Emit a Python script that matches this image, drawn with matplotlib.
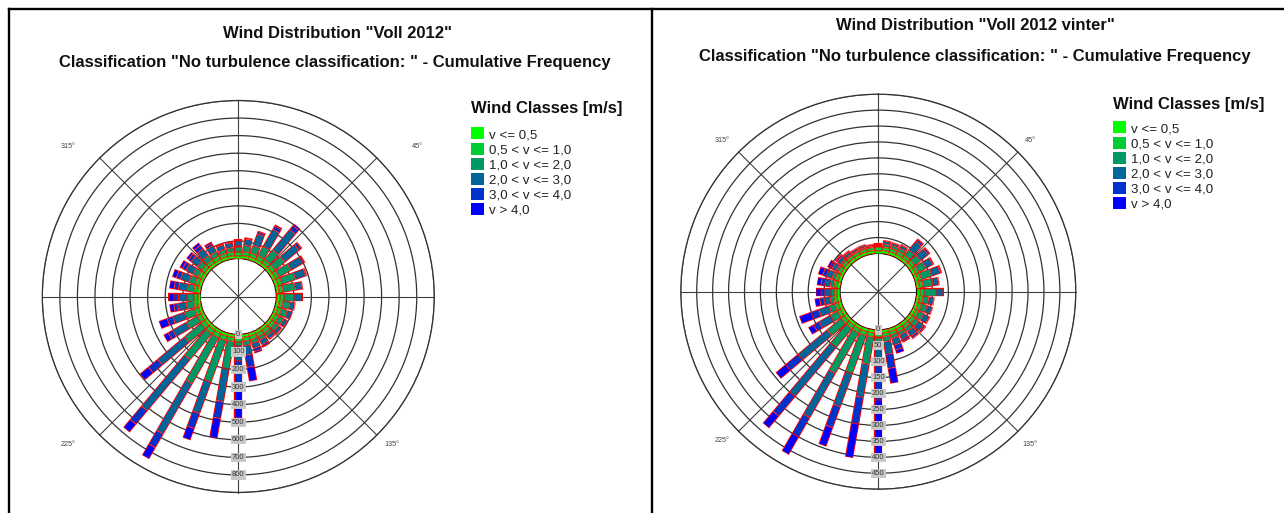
import numpy as np
import matplotlib
matplotlib.use("Agg")
import matplotlib.pyplot as plt
from matplotlib.lines import Line2D
from matplotlib.patches import Patch

plt.rcParams["font.family"] = ["Liberation Sans", "DejaVu Sans"]

directions = np.arange(0, 360, 10)
class_labels = ["v <= 0,5", "0,5 < v <= 1,0", "1,0 < v <= 2,0",
                "2,0 < v <= 3,0", "3,0 < v <= 4,0", "v > 4,0"]
class_colors = ["#00ff00", "#00cc33", "#009966", "#006699", "#0033cc", "#0000ff"]

# hours per direction sector (rows, 0..350 deg) and wind class (columns)
voll_2012 = [
    [18, 22, 32, 30, 5, 2],
    [18, 22, 37, 36, 7, 3],
    [18, 22, 47, 70, 13, 5],
    [18, 24, 62, 110, 22, 9],
    [18, 24, 72, 150, 30, 12],
    [18, 24, 72, 105, 16, 6],
    [18, 24, 77, 80, 9, 4],
    [18, 24, 82, 62, 6, 3],
    [18, 22, 72, 38, 4, 2],
    [18, 22, 60, 45, 4, 2],
    [18, 22, 40, 27, 3, 2],
    [18, 22, 35, 27, 3, 2],
    [18, 22, 30, 25, 3, 2],
    [18, 22, 25, 23, 4, 2],
    [18, 22, 20, 22, 5, 2],
    [18, 22, 20, 30, 12, 5],
    [18, 22, 22, 30, 19, 10],
    [18, 22, 25, 55, 70, 81],
    [18, 22, 22, 88, 130, 194],
    [18, 24, 158, 188, 98, 115],
    [18, 26, 252, 190, 90, 71],
    [18, 26, 302, 330, 90, 74],
    [18, 26, 192, 380, 100, 59],
    [18, 26, 122, 200, 70, 61],
    [18, 24, 72, 90, 30, 29],
    [18, 24, 62, 70, 34, 50],
    [18, 22, 42, 50, 22, 25],
    [18, 22, 37, 50, 25, 32],
    [18, 22, 37, 50, 25, 28],
    [18, 22, 37, 50, 25, 25],
    [18, 22, 32, 45, 22, 18],
    [18, 22, 32, 45, 20, 14],
    [18, 22, 32, 50, 25, 18],
    [18, 22, 27, 40, 15, 10],
    [18, 22, 22, 28, 7, 4],
    [18, 22, 24, 28, 6, 3],
]

voll_2012_vinter = [
    [10, 11, 5, 4, 1, 1],
    [10, 11, 10, 9, 2, 1],
    [10, 11, 10, 8, 2, 1],
    [10, 11, 11, 10, 3, 1],
    [10, 11, 21, 35, 8, 3],
    [10, 11, 24, 30, 6, 2],
    [10, 11, 26, 24, 4, 1],
    [10, 11, 34, 28, 4, 2],
    [10, 11, 31, 18, 3, 1],
    [10, 11, 38, 24, 3, 1],
    [10, 11, 18, 16, 2, 1],
    [10, 11, 18, 17, 2, 1],
    [10, 11, 18, 19, 3, 1],
    [10, 11, 16, 20, 6, 3],
    [10, 11, 14, 19, 7, 3],
    [10, 11, 11, 16, 7, 3],
    [10, 11, 12, 22, 16, 12],
    [10, 12, 16, 40, 45, 48],
    [10, 12, 19, 70, 107, 172],
    [10, 13, 87, 105, 85, 108],
    [10, 13, 127, 110, 70, 63],
    [10, 13, 147, 160, 70, 64],
    [10, 13, 77, 200, 80, 49],
    [10, 13, 57, 120, 50, 40],
    [10, 12, 26, 40, 20, 19],
    [10, 12, 18, 35, 25, 40],
    [10, 11, 11, 20, 13, 16],
    [10, 11, 10, 18, 12, 15],
    [10, 11, 10, 18, 12, 13],
    [10, 11, 10, 18, 13, 15],
    [10, 10, 8, 14, 8, 8],
    [10, 10, 6, 12, 6, 4],
    [10, 10, 5, 9, 4, 2],
    [10, 10, 4, 7, 2, 1],
    [10, 10, 5, 7, 2, 1],
    [10, 10, 4, 5, 1, 1],
]

W, H = 1284, 513
fig = plt.figure(figsize=(W / 100, H / 100), dpi=100)


def fx(x):
    return x / W


def fy(y):
    return 1 - y / H


def draw_rose(cx, cy, R, counts, rmax, rstep, label_step):
    ax = fig.add_axes([fx(cx - R), fy(cy + R), 2 * R / W, 2 * R / H], projection="polar")
    counts = np.asarray(counts, dtype=float)
    tops = counts.cumsum(axis=1)
    bottoms = tops - counts
    hole = 0.24 * rmax
    ax.set_theta_zero_location("N")
    ax.set_theta_direction(-1)
    ax.set_ylim(0, rmax)
    ax.set_rorigin(-hole)
    ax.set_yticks(np.arange(rstep, rmax + 1, rstep))
    ax.set_yticklabels([])
    ax.set_xticks([])
    ax.set_axisbelow(True)
    ax.grid(axis="y", color="#333333", lw=0.9)
    ax.spines["polar"].set_color("#333333")
    ax.spines["polar"].set_linewidth(0.9)
    ax.spines["inner"].set_visible(False)

    # spokes every 45 degrees, running through the empty centre
    for a in range(0, 360, 45):
        t = np.deg2rad(a)
        ax.plot([t, t], [-hole, rmax], color="#404040", lw=0.8, clip_on=False, zorder=1)

    # stacked bars: red outline per class segment, fills drawn on top
    delta = 0.6 * (rmax + hole) / R
    for i, d in enumerate(directions):
        t = np.deg2rad(d)
        for k in range(len(class_colors)):
            r0, r1 = bottoms[i, k], tops[i, k]
            ax.plot([t, t], [r0, r1], color="red", lw=6.0,
                    solid_capstyle="butt", zorder=3, clip_on=False)
            ax.plot([t, t], [r0 + delta, max(r1 - delta, r0 + delta)],
                    color=class_colors[k], lw=4.7, solid_capstyle="butt",
                    zorder=4, clip_on=False)

    for v in np.arange(0, rmax, label_step):
        ax.text(np.pi, v, f"{v:g}", ha="center", va="center", fontsize=5.5,
                color="#333333", zorder=6,
                bbox=dict(boxstyle="square,pad=0.15", fc="#c8c8c8", ec="none"))
    return ax


draw_rose(238.3, 296.5, 196, voll_2012, 900, 100, 100)
draw_rose(878.3, 291.7, 197.5, voll_2012_vinter, 500, 50, 50)

# compass labels
for x, y, s in [(68, 146, "315°"), (417, 146, "45°"), (68, 445, "225°"), (392, 445, "135°"),
                (722, 140, "315°"), (1030, 140, "45°"), (722, 441, "225°"), (1030, 444, "135°")]:
    fig.text(fx(x), fy(y), s, ha="center", va="center", fontsize=5.2, color="#444444")

# titles
fig.text(fx(338), fy(34), 'Wind Distribution "Voll 2012"', ha="center", va="center",
         fontsize=12, fontweight="bold", color="#111111")
fig.text(fx(335), fy(62), 'Classification "No turbulence classification: " - Cumulative Frequency',
         ha="center", va="center", fontsize=12, fontweight="bold", color="#111111")
fig.text(fx(975), fy(26), 'Wind Distribution "Voll 2012 vinter"', ha="center", va="center",
         fontsize=12, fontweight="bold", color="#111111")
fig.text(fx(975), fy(57), 'Classification "No turbulence classification: " - Cumulative Frequency',
         ha="center", va="center", fontsize=12, fontweight="bold", color="#111111")

# legends: bold heading, then the class swatches below it
handles = [Patch(facecolor=c, edgecolor="none") for c in class_colors]
for lx, ty, ly in [(471, 108, 127.5), (1113, 104, 121.5)]:
    fig.text(fx(lx), fy(ty), "Wind Classes [m/s]", ha="left", va="center",
             fontsize=12, fontweight="bold", color="#111111")
    fig.legend(handles, class_labels, loc="upper left", bbox_to_anchor=(fx(lx), fy(ly)),
               frameon=False, fontsize=9.6, handlelength=1.0, handleheight=1.0,
               handletextpad=0.35, labelspacing=0.12, borderpad=0, borderaxespad=0,
               labelcolor="#222222")

# panel frames
for xs, ys in [([fx(9), 1], [fy(9), fy(9)]),
               ([fx(9), fx(9)], [0, fy(9)]),
               ([fx(652), fx(652)], [0, fy(9)])]:
    fig.add_artist(Line2D(xs, ys, transform=fig.transFigure, color="black", lw=1.7))

plt.savefig("out.png", dpi=100, facecolor="white")
